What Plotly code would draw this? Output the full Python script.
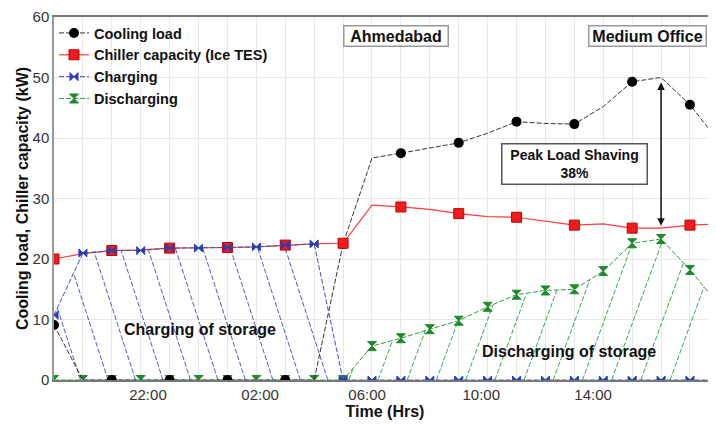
import numpy as np
import plotly.graph_objects as go

# ---------------- data (hourly points) ----------------
hour_index = list(range(24))
cooling_load = [9.1, 0, 0, 0, 0, 0, 0, 0, 0, 0, 22.5, 36.7, 37.5, 38.3, 39.2, 40.8,
                42.7, 42.4, 42.3, 45.2, 49.3, 50.0, 45.5, 39.4]
chiller_capacity = [20.0, 20.9, 21.4, 21.5, 21.8, 21.8, 21.9, 22.0, 22.3, 22.5, 22.6,
                    28.9, 28.6, 28.2, 27.5, 27.0, 26.9, 26.2, 25.6, 25.8, 25.1, 25.1,
                    25.6, 25.8]
charging = [10.7, 21.0, 21.4, 21.4, 21.8, 21.8, 21.9, 22.0, 22.3, 22.5] + [0] * 14
discharging = [0] * 11 + [5.6, 6.9, 8.4, 9.8, 12.1, 14.1, 14.8, 15.0, 18.0, 22.6,
                          23.3, 18.2, 12.4]

tick_labels = ["22:00", "02:00", "06:00", "10:00", "14:00", "18:00"]
tick_positions = [3.25, 7.13, 10.83, 14.78, 18.65, 22.46]

peak_index = 21  # hour index of peak load (arrow)
peak_shaving_text = "Peak Load Shaving<br>38%"

FONT = "Liberation Sans, Arial, sans-serif"


def hatch_lines(xs, ys, bottoms, slope, direction):
    """Diagonal hatch segments from the baseline up to the curve."""
    fine = np.linspace(xs[0], xs[-1], 40001)
    curve = np.interp(fine, xs, ys)
    hx, hy = [], []
    for xb in bottoms:
        if direction < 0:
            sel = np.where(fine <= xb)[0][::-1]
            line = slope * (xb - fine[sel])
        else:
            sel = np.where(fine >= xb)[0]
            line = slope * (fine[sel] - xb)
        hit = np.where(line >= curve[sel])[0]
        if len(hit) == 0:
            continue
        k = sel[hit[0]]
        if curve[k] <= 0.05:
            continue
        hx += [xb, fine[k], None]
        hy += [0, curve[k], None]
    return hx, hy


blue_bottoms = [0.92 + 0.95 * k for k in range(10)]
green_bottoms = [10.2 + 1.01 * k for k in range(13)]
bhx, bhy = hatch_lines(hour_index, charging, blue_bottoms, 14.8, -1)
ghx, ghy = hatch_lines(hour_index, discharging, green_bottoms, 13.1, +1)

even_only = lambda c: [c if i % 2 == 0 else "rgba(0,0,0,0)" for i in hour_index]

fig = go.Figure()

fig.add_trace(go.Scatter(x=bhx, y=bhy, mode="lines", showlegend=False, hoverinfo="skip",
                         line=dict(color="#4a5bc8", width=1, dash="5px,2px")))
fig.add_trace(go.Scatter(x=ghx, y=ghy, mode="lines", showlegend=False, hoverinfo="skip",
                         line=dict(color="#3aa64a", width=1, dash="5px,2px")))

fig.add_trace(go.Scatter(
    x=hour_index, y=discharging, name="Discharging", mode="lines+markers", legendrank=4,
    line=dict(color="#2e9e3e", width=1, dash="5px,2px"),
    marker=dict(symbol="hourglass", size=9, color="#1e8a2e",
                line=dict(color="#1e8a2e", width=1))))
fig.add_trace(go.Scatter(
    x=hour_index, y=cooling_load, name="Cooling load", mode="lines+markers", legendrank=1,
    line=dict(color="#333333", width=1, dash="5px,2px"),
    marker=dict(symbol="circle", size=10, color=even_only("#000000"),
                line=dict(width=0))))
fig.add_trace(go.Scatter(
    x=hour_index, y=chiller_capacity, name="Chiller capacity (Ice TES)",
    mode="lines+markers", legendrank=2,
    line=dict(color="#ff3b3b", width=1.2),
    marker=dict(symbol="square", size=10, color=even_only("#ee1c1c"),
                line=dict(color=even_only("#c40000"), width=1))))
fig.add_trace(go.Scatter(
    x=hour_index, y=charging, name="Charging", mode="lines+markers", legendrank=3,
    line=dict(color="#3a4fc4", width=1, dash="5px,2px"),
    marker=dict(symbol="bowtie", size=8, color="#2a3fb0",
                line=dict(color="#2a3fb0", width=1))))

box = dict(xref="paper", yref="paper", showarrow=False, xanchor="center", yanchor="middle")
annotations = [
    dict(box, x=0.516, y=0.948, text="Ahmedabad",
         font=dict(family=FONT, size=16, color="#111", weight="bold"),
         bordercolor="#999", borderwidth=1.5, bgcolor="white", width=103, height=19,
         borderpad=0),
    dict(box, x=0.897, y=0.948, text="Medium Office",
         font=dict(family=FONT, size=16, color="#111", weight="bold"),
         bordercolor="#999", borderwidth=1.5, bgcolor="white", width=116, height=19,
         borderpad=0),
    dict(box, x=0.787, y=0.596, text=peak_shaving_text,
         font=dict(family=FONT, size=14, color="#111", weight="bold"),
         bordercolor="#555", borderwidth=1.5, bgcolor="white", width=144, height=39,
         borderpad=0),
    dict(box, x=0.2205, y=0.138, text="Charging of storage",
         font=dict(family=FONT, size=16, color="#111", weight="bold")),
    dict(box, x=0.778, y=0.078, text="Discharging of storage",
         font=dict(family=FONT, size=16, color="#111", weight="bold")),
    dict(x=peak_index, y=cooling_load[peak_index], ax=peak_index,
         ay=chiller_capacity[peak_index], xref="x", yref="y", axref="x", ayref="y",
         text="", showarrow=True, arrowhead=2, startarrowhead=2, arrowside="end+start",
         arrowsize=1, arrowwidth=1.5, arrowcolor="#111", standoff=5, startstandoff=1),
]

# page body has an 8px margin: size the figure so the plot lands where the reference has it
fig.update_layout(
    width=708, height=417,
    margin=dict(l=46, r=0, t=9, b=45),
    paper_bgcolor="white", plot_bgcolor="white",
    font=dict(family=FONT, color="#333"),
    showlegend=True,
    legend=dict(x=0.0, y=1.0, xanchor="left", yanchor="top", bgcolor="rgba(0,0,0,0)",
                font=dict(family=FONT, size=14.5, color="#111", weight="bold"),
                tracegroupgap=0, itemwidth=30),
    annotations=annotations,
)

fig.update_xaxes(
    range=[0, 22.9], tickmode="array", tickvals=tick_positions, ticktext=tick_labels,
    showgrid=False, zeroline=False, ticks="", ticklabelstandoff=0,
    tickfont=dict(family=FONT, size=15, color="#333"),
    showline=True, linecolor="#777", linewidth=2, mirror=True,
    minor=dict(tick0=0, dtick=1, showgrid=True, gridcolor="#e8e8e8", gridwidth=1, ticks=""),
    title=dict(text="Time (Hrs)", standoff=2,
               font=dict(family=FONT, size=16, color="#111", weight="bold")),
    automargin=False,
)
fig.update_yaxes(
    range=[0, 60], dtick=10, showgrid=True, gridcolor="#e8e8e8", gridwidth=1,
    zeroline=False, ticks="", ticklabelstandoff=0,
    tickfont=dict(family=FONT, size=15, color="#333"),
    showline=True, linecolor="#999", linewidth=1.5,
    title=dict(text="Cooling load, Chiller capacity (kW)", standoff=0,
               font=dict(family=FONT, size=16, color="#111", weight="bold")),
    automargin=False,
)

fig.write_html("out.html")
